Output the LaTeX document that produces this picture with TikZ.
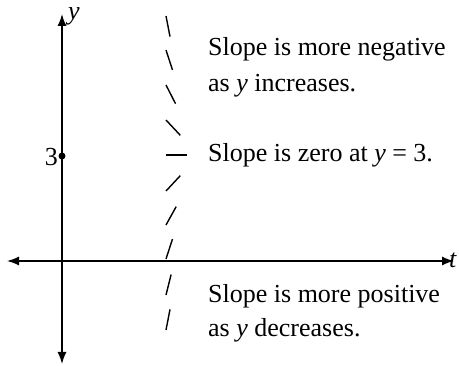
\documentclass[tikz,border=0pt]{standalone}
\usepackage{fontspec}
\setmainfont{Liberation Serif}
\usetikzlibrary{arrows.meta}
\begin{document}
\begin{tikzpicture}[x=1pt,y=-1pt,
  axis/.style={line width=1.5pt,-{Latex[length=12pt,width=9pt]}},
  seg/.style={line width=1.4pt},
  lbl/.style={font=\fontsize{26}{30}\selectfont,inner sep=0pt},
  note/.style={lbl,anchor=base west}]
\useasboundingbox (0,0) rectangle (459,366);
\coordinate (o) at (62,261);
\coordinate (ytop) at (62,14);
\coordinate (ybot) at (62,364);
\coordinate (xl) at (7,261);
\coordinate (xr) at (454,261);
\draw[axis] (o) -- (ytop);
\draw[axis] (o) -- (ybot);
\draw[axis] (o) -- (xl);
\draw[axis] (o) -- (xr);
\node[circle,fill,inner sep=0pt,minimum size=7pt] (p3) at (62,156) {};
\node[lbl,anchor=east] (l3) at (58,157) {3};
\node[lbl,anchor=base west] (ly) at (68,20) {\textit{y}};
\node[lbl,anchor=west] (lt) at (449,260) {\textit{t}};
% slope marks (start point, angle, length)
\foreach \yy/\a in {16/79,50/72,85/63,120/47}
  \draw[seg] (166,\yy) -- ++(\a:21);
\draw[seg] (166,155) -- ++(21,0);
\foreach \yy/\a in {191/-47,225/-61,259/-72,295/-76,330/-79}
  \draw[seg] (166,\yy) -- ++(\a:21);
\node[note] (n1a) at (208,56) {Slope is more negative};
\node[note] (n1b) at (208,92) {as \textit{y} increases.};
\node[note] (n2) at (208,162) {Slope is zero at \textit{y} = 3.};
\node[note] (n3a) at (208,303) {Slope is more positive};
\node[note] (n3b) at (208,337) {as \textit{y} decreases.};
\end{tikzpicture}
\end{document}
